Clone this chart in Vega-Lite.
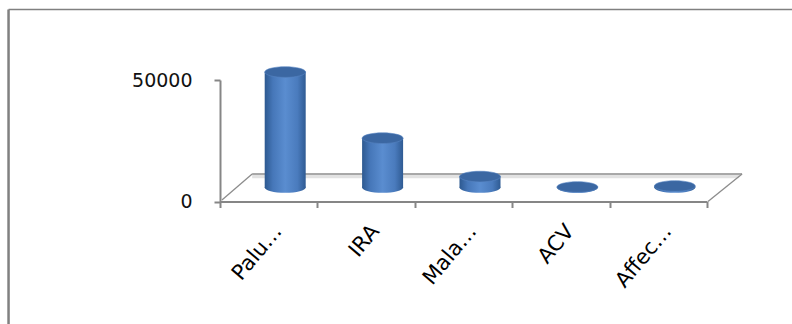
{
  "$schema": "https://vega.github.io/schema/vega-lite/v6.json",
  "autosize": {"type": "none"},
  "width": 487,
  "height": 121.5,
  "padding": {"left": 220, "top": 80, "right": 85, "bottom": 122.5},
  "background": "#ffffff",
  "config": {"view": {"stroke": null}},
  "datasets": {
    "bars": [
      {"cat": "Palu…", "value": 47500},
      {"cat": "IRA", "value": 20300},
      {"cat": "Mala…", "value": 4500},
      {"cat": "ACV", "value": 200},
      {"cat": "Affec…", "value": 600}
    ],
    "frame": [
      {"edge": "left", "u1": -2.171, "v1": 79000, "u2": -2.171, "v2": -60000},
      {"edge": "top", "u1": -2.171, "v1": 79000, "u2": 6.2, "v2": 79000}
    ],
    "floor": [
      {"edge": "band", "u1": 0.33, "v1": 10300, "u2": 5.33, "v2": 10300},
      {"edge": "back", "u1": 0.33, "v1": 11320, "u2": 5.36, "v2": 11320},
      {"edge": "left", "u1": 0.02, "v1": 600, "u2": 0.33, "v2": 11320},
      {"edge": "right", "u1": 5.01, "v1": 0, "u2": 5.36, "v2": 11320}
    ]
  },
  "resolve": {"scale": {"x": "independent"}, "axis": {"x": "independent"}},
  "layer": [
    {
      "layer": [
        {
          "data": {"name": "frame"},
          "transform": [{"filter": "datum.edge === 'left'"}],
          "mark": {"type": "rule", "color": "#808080", "strokeWidth": 2.5},
          "encoding": {
            "x": {"field": "u1", "type": "quantitative", "scale": {"domain": [0, 5], "nice": false, "zero": false}, "axis": null},
            "x2": {"field": "u2"},
            "y": {
              "field": "v1",
              "type": "quantitative",
              "scale": {"domain": [0, 50000], "nice": false},
              "axis": {
                "title": null,
                "values": [0, 50000],
                "format": "d",
                "grid": false,
                "domainColor": "#868686",
                "domainWidth": 2,
                "tickColor": "#868686",
                "tickWidth": 2,
                "tickSize": 6,
                "labelPadding": 22,
                "labelFont": "DejaVu Sans",
                "labelFontSize": 19,
                "labelColor": "#111111"
              }
            },
            "y2": {"field": "v2"}
          }
        },
        {
          "data": {"name": "frame"},
          "transform": [{"filter": "datum.edge === 'top'"}],
          "mark": {"type": "rule", "color": "#808080", "strokeWidth": 1.5},
          "encoding": {
            "x": {"field": "u1", "type": "quantitative", "axis": null},
            "x2": {"field": "u2"},
            "y": {"field": "v1", "type": "quantitative"},
            "y2": {"field": "v2"}
          }
        },
        {
          "data": {"name": "floor"},
          "transform": [{"filter": "datum.edge === 'band'"}],
          "mark": {"type": "rule", "color": "#e2e2e2", "strokeWidth": 3.5},
          "encoding": {
            "x": {"field": "u1", "type": "quantitative", "axis": null},
            "x2": {"field": "u2"},
            "y": {"field": "v1", "type": "quantitative"},
            "y2": {"field": "v2"}
          }
        },
        {
          "data": {"name": "floor"},
          "transform": [{"filter": "datum.edge !== 'band'"}],
          "mark": {"type": "rule", "color": "#8c8c8c", "strokeWidth": 1.3},
          "encoding": {
            "x": {"field": "u1", "type": "quantitative", "axis": null},
            "x2": {"field": "u2"},
            "y": {"field": "v1", "type": "quantitative"},
            "y2": {"field": "v2"}
          }
        }
      ]
    },
    {
      "data": {"name": "bars"},
      "encoding": {
        "x": {
          "field": "cat",
          "type": "nominal",
          "sort": null,
          "scale": {"paddingInner": 0, "paddingOuter": 0},
          "axis": {
            "title": null,
            "tickBand": "extent",
            "domainColor": "#868686",
            "domainWidth": 2,
            "tickColor": "#868686",
            "tickWidth": 2,
            "tickSize": 6,
            "labelAngle": -50,
            "labelAlign": "right",
            "labelBaseline": "middle",
            "labelPadding": 20,
            "labelOffset": 9,
            "labelFont": "DejaVu Sans",
            "labelFontSize": 21,
            "labelColor": "#000000",
            "labelLimit": 0
          }
        }
      },
      "layer": [
        {
          "mark": {
            "type": "point",
            "shape": "M-1,0A1,0.26,0,1,0,1,0A1,0.26,0,1,0,-1,0Z",
            "size": 1681,
            "filled": true,
            "opacity": 1,
            "strokeWidth": 0,
            "xOffset": 16.5,
            "yOffset": -14,
            "fill": {"gradient": "linear", "x1": 0, "x2": 1, "y1": 0, "y2": 0,
              "stops": [
                {"offset": 0, "color": "#2d5990"},
                {"offset": 0.2, "color": "#4677b9"},
                {"offset": 0.5, "color": "#5a8dd0"},
                {"offset": 0.8, "color": "#4a7bbd"},
                {"offset": 1, "color": "#2f5b93"}
              ]}
          },
          "encoding": {
            "y": {"datum": 0, "type": "quantitative"}
          }
        },
        {
          "mark": {
            "type": "bar",
            "width": 41,
            "xOffset": 16.5,
            "yOffset": -14,
            "y2Offset": -14,
            "fill": {"gradient": "linear", "x1": 0, "x2": 1, "y1": 0, "y2": 0,
              "stops": [
                {"offset": 0, "color": "#2d5990"},
                {"offset": 0.2, "color": "#4677b9"},
                {"offset": 0.5, "color": "#5a8dd0"},
                {"offset": 0.8, "color": "#4a7bbd"},
                {"offset": 1, "color": "#2f5b93"}
              ]}
          },
          "encoding": {
            "y": {"field": "value", "type": "quantitative"},
            "y2": {"datum": 0}
          }
        },
        {
          "mark": {
            "type": "point",
            "shape": "M-1,0A1,0.26,0,1,0,1,0A1,0.26,0,1,0,-1,0Z",
            "size": 1681,
            "filled": true,
            "opacity": 1,
            "fill": "#3b67a2",
            "stroke": "#5784c2",
            "strokeWidth": 0.6,
            "xOffset": 16.5,
            "yOffset": -14
          },
          "encoding": {
            "y": {"field": "value", "type": "quantitative"}
          }
        }
      ]
    }
  ]
}
